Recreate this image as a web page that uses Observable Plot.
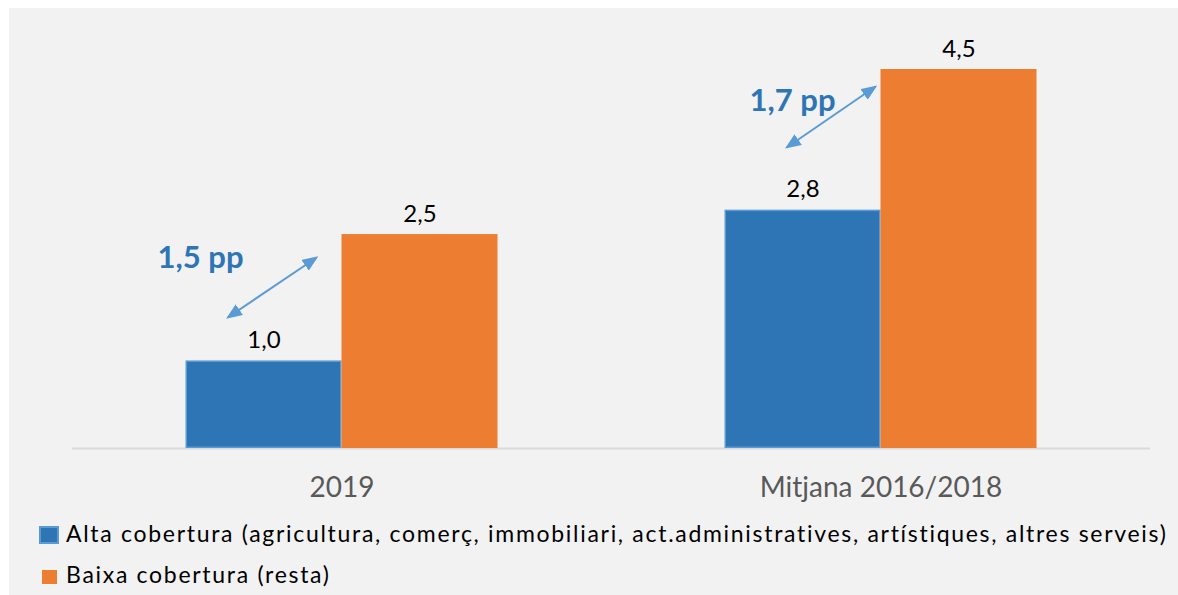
<!DOCTYPE html>
<html>
<head>
<meta charset="utf-8">
<script src="https://cdn.jsdelivr.net/npm/d3@7"></script>
<script src="https://cdn.jsdelivr.net/npm/@observablehq/plot@0.6"></script>
<style>
  html, body { margin: 0; padding: 0; background: #ffffff; }
  body { width: 1178px; height: 595px; position: relative; overflow: hidden; font-family: Lato, "Open Sans", sans-serif; }
  #panel { position: absolute; left: 9px; top: 8px; width: 1169px; height: 587px; background: #f2f2f2; }
  #chart { position: absolute; left: 0; top: 8px; }
  .leg { position: absolute; font-size: 23px; line-height: 24px; color: #000; white-space: nowrap; letter-spacing: 1.7px; }
  .sw { position: absolute; box-sizing: border-box; }
</style>
</head>
<body>
<div id="panel"></div>
<div id="chart"></div>
<div id="legend"></div>
<script>
// ---- data ----
const categories = ["2019", "Mitjana 2016/2018"];
const seriesNames = [
  "Alta cobertura (agricultura, comerç, immobiliari, act.administratives, artístiques, altres serveis)",
  "Baixa cobertura (resta)"
];
const altaValues = [1.04, 2.83];
const baixaValues = [2.54, 4.50];
const gapLabels = ["1,5 pp", "1,7 pp"];
// annotation arrows (data units: x = category index offset, y = value)
const arrowX1 = [-0.212, 0.825];
const arrowY1 = [1.555, 3.574];
const arrowX2 = [-0.047, 0.990];
const arrowY2 = [2.268, 4.298];
const gapLabelX = [-0.2625, 0.836];
const gapLabelY = [2.256, 4.127];

const colors = ["#2e75b6", "#ed7d31"];
const blueBorder = "#5b9bd5";
const hw = 156 / 539; // half group width in category units

const fmt = v => v.toFixed(1).replace(".", ",");

const alta = categories.map((c, i) => ({i, c, v: altaValues[i]}));
const baixa = categories.map((c, i) => ({i, c, v: baixaValues[i]}));
const arrows = categories.map((c, i) => ({x1: arrowX1[i], y1: arrowY1[i], x2: arrowX2[i], y2: arrowY2[i]}));
const gaps = categories.map((c, i) => ({x: gapLabelX[i], y: gapLabelY[i], t: gapLabels[i]}));

function filledArrow(color) {
  const ns = "http://www.w3.org/2000/svg";
  const m = document.createElementNS(ns, "marker");
  m.setAttribute("viewBox", "-8 -6.5 16 13");
  m.setAttribute("markerWidth", 16);
  m.setAttribute("markerHeight", 13);
  m.setAttribute("markerUnits", "userSpaceOnUse");
  m.setAttribute("refX", 6);
  m.setAttribute("refY", 0);
  m.setAttribute("orient", "auto-start-reverse");
  const p = document.createElementNS(ns, "path");
  p.setAttribute("d", "M-8,-6.5L8,0L-8,6.5Z");
  p.setAttribute("fill", color);
  p.setAttribute("stroke", "none");
  m.appendChild(p);
  return m;
}

const chart = Plot.plot({
  width: 1178,
  height: 510,
  marginLeft: 72,
  marginRight: 28,
  marginTop: 61,
  marginBottom: 70,
  style: {background: "transparent", fontFamily: "Lato, 'Open Sans', sans-serif", color: "#595959", overflow: "visible"},
  x: {domain: [-0.5, 1.5], axis: null},
  y: {domain: [0, 4.5], axis: null},
  marks: [
    Plot.ruleY([0], {stroke: "#d9d9d9", strokeWidth: 2}),
    Plot.rectY(alta, {x1: d => d.i - hw, x2: d => d.i, y: "v", fill: colors[0], stroke: blueBorder, strokeWidth: 1.5, inset: 0.75}),
    Plot.rectY(baixa, {x1: d => d.i, x2: d => d.i + hw, y: "v", fill: colors[1], inset: 0}),
    Plot.text(alta, {x: d => d.i - hw / 2, y: "v", text: d => fmt(d.v), lineAnchor: "bottom", dy: -13, fontSize: 24, fill: "#000"}),
    Plot.text(baixa, {x: d => d.i + hw / 2, y: "v", text: d => fmt(d.v), lineAnchor: "bottom", dy: -13, fontSize: 24, fill: "#000"}),
    Plot.link(arrows, {x1: "x1", y1: "y1", x2: "x2", y2: "y2", stroke: blueBorder, strokeWidth: 2, markerStart: filledArrow, markerEnd: filledArrow}),
    Plot.text(gaps, {x: "x", y: "y", text: "t", fontSize: 31, fontWeight: "bold", fill: colors[0], textAnchor: "middle", lineAnchor: "middle"}),
    Plot.axisX({ticks: [0, 1], tickFormat: i => categories[i], tickSize: 0, tickPadding: 29, fontSize: 28, fill: "#595959", label: null})
  ]
});
document.getElementById("chart").appendChild(chart);

// legend
const legend = document.getElementById("legend");
const legendRows = [
  {top: 521, sw: {left: 39, top: 526, w: 20, h: 18, border: `2px solid ${blueBorder}`}},
  {top: 562, sw: {left: 42, top: 570, w: 15, h: 14, border: "none"}}
];
seriesNames.forEach((name, i) => {
  const r = legendRows[i];
  const sw = document.createElement("div");
  sw.className = "sw";
  Object.assign(sw.style, {left: r.sw.left + "px", top: r.sw.top + "px", width: r.sw.w + "px", height: r.sw.h + "px", background: colors[i], border: r.sw.border});
  legend.appendChild(sw);
  const t = document.createElement("div");
  t.className = "leg";
  t.style.left = "66px";
  t.style.top = r.top + "px";
  t.textContent = name;
  legend.appendChild(t);
});
</script>
</body>
</html>
